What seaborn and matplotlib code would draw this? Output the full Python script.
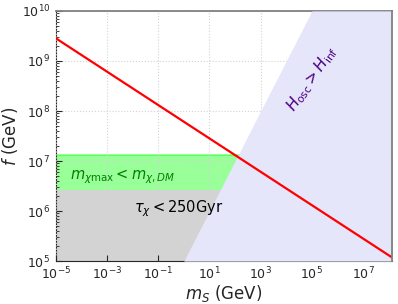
import matplotlib
matplotlib.use("Agg")
import matplotlib.pyplot as plt
import seaborn as sns
import pandas as pd
from matplotlib.ticker import NullLocator

# axis limits
m_lim = [1e-5, 1.3e8]
f_lim = [1e5, 1e10]

# red line f ~ m^(-1/3)
m_line = [1e-5, 1.3e8]
f_line = [2.85e9, 1.2e5]

# H_osc > H_inf boundary (f = 1e5 m)
m_hosc = [1.0, 1e5]
f_hosc = [1e5, 1e10]

# horizontal bands
f_green_top = 1.3e7
f_gray_top = 2.7e6

sns.set_style("ticks")
plt.rcParams['font.family'] = ['DejaVu Sans']

fig, ax = plt.subplots(figsize=(3.98, 3.04), dpi=100)
fig.subplots_adjust(left=0.14, right=0.984, bottom=0.141, top=0.964)

ax.set_xscale("log")
ax.set_yscale("log")

# green band (goes down to bottom, gray sits on top)
ax.fill_between(m_lim, f_lim[0], f_green_top, color="lime", alpha=0.4,
                lw=1.5, zorder=1)
ax.fill_between(m_lim, f_lim[0], f_gray_top, color="lightgray", lw=0, zorder=1.2)
ax.fill_betweenx(f_hosc, m_hosc, m_lim[1], color="lavender", lw=0, zorder=3)

df = pd.DataFrame({"m": m_line, "f": f_line})
sns.lineplot(data=df, x="m", y="f", color="red", lw=1.6, ax=ax, zorder=4)

ax.text(10**-4.45, 10**6.68, r"$m_{\chi\rm max} < m_{\chi,DM}$", color="green",
        fontsize=10.5, va="center", ha="left", zorder=5)
ax.text(10**-1.95, 10**6.04, r"$\tau_\chi < 250$Gyr", color="black",
        fontsize=10.5, va="center", ha="left", zorder=5)
ax.text(10**5.0, 10**8.65, r"$H_{\rm osc} > H_{\rm inf}$", color="indigo",
        fontsize=11, va="center", ha="center", rotation=55, zorder=5)

ax.set_xlim(m_lim)
ax.set_ylim(f_lim)
ax.set_xlabel(r"$m_S$ (GeV)", fontsize=12, labelpad=0)
ax.set_ylabel(r"$f$ (GeV)", fontsize=12, labelpad=1)

ax.set_xticks([10.0**k for k in range(-5, 9, 2)])
ax.xaxis.set_minor_locator(NullLocator())
ax.tick_params(axis="both", which="both", direction="in", labelsize=9)
ax.tick_params(axis="both", which="major", length=4)
ax.tick_params(axis="y", which="major", pad=4)
ax.tick_params(axis="y", which="minor", length=2)

ax.grid(True, which="major", ls=":", color="lightgray", lw=0.8)
ax.set_axisbelow(False)

for s in ["top", "right"]:
    ax.spines[s].set_color("gray")
    ax.spines[s].set_linewidth(1.3)
ax.spines["top"].set_zorder(2.8)
ax.spines["right"].set_zorder(6)

fig.savefig("out.png", dpi=100)
